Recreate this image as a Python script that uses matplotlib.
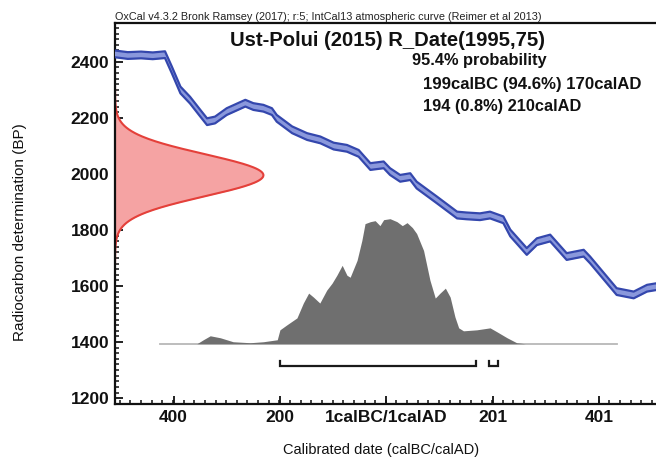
import numpy as np
import matplotlib
matplotlib.use("Agg")
import matplotlib.pyplot as plt
from matplotlib.ticker import MultipleLocator

plt.rcParams['font.family'] = ['Liberation Sans', 'DejaVu Sans']

# ---------------- data ----------------
# calibration curve (IntCal13) centre line, calendar year (BC negative) vs BP
cal_years = [-510, -485, -460, -438, -415, -402, -386, -368, -349, -336, -321, -299,
             -264, -249, -230, -214, -205, -176, -148, -123, -98, -73, -51, -29,
             -4, 8, 27, 46, 58, 96, 134, 152, 177, 196, 221, 234, 265, 284, 309,
             340, 372, 384, 434, 466, 491, 510, 540]
cal_bp = [2428, 2422, 2424, 2421, 2425, 2370, 2299, 2263, 2217, 2186, 2192, 2222,
          2252, 2240, 2234, 2222, 2198, 2157, 2133, 2121, 2099, 2091, 2073, 2026,
          2032, 2008, 1984, 1990, 1960, 1907, 1853, 1850, 1847, 1853, 1836, 1789,
          1723, 1758, 1771, 1705, 1717, 1693, 1580, 1568, 1592, 1598, 1605]
cal_err = 12

# radiocarbon measurement
r_mean = 1995
r_sigma = 75

# calibrated posterior (relative probability)
post_years = [-424, -355, -343, -330, -311, -287, -255, -230, -217, -204, -199, -186,
              -167, -155, -145, -136, -124, -111, -101, -92, -82, -73, -67, -54, -45,
              -39, -29, -20, -11, -4, 8, 21, 31, 40, 50, 58, 71, 83, 93, 102, 112,
              121, 130, 137, 146, 171, 196, 209, 228, 246, 262, 434]
post_prob = [0, 0, 4, 8, 6, 2, 1, 2, 3, 4, 14, 19,
             26, 41, 51, 47, 41, 54, 61, 69, 79, 69, 67, 84, 104,
             121, 123, 124, 119, 125, 126, 123, 119, 122, 117, 111, 94, 64, 46, 51, 56,
             47, 27, 16, 13, 14, 16, 12, 6, 1, 0, 0]

# 95.4% ranges
range_starts = [-198, 194]
range_ends = [170, 210]

x_ticks = [-399, -199, 1, 201, 401]
x_ticklabels = ['400', '200', '1calBC/1calAD', '201', '401']
y_ticks = [1200, 1400, 1600, 1800, 2000, 2200, 2400]

header = "OxCal v4.3.2 Bronk Ramsey (2017); r:5; IntCal13 atmospheric curve (Reimer et al 2013)"
title = "Ust-Polui (2015) R_Date(1995,75)"
prob_lines = ["95.4% probability", "199calBC (94.6%) 170calAD", "194 (0.8%) 210calAD"]

# ---------------- figure ----------------
W, H = 656, 459
fig = plt.figure(figsize=(W / 100, H / 100), dpi=100)
xlim = (-509, 540)
ylim = (1179, 2538)
ax_w = (xlim[1] - xlim[0]) * 0.532 / W
ax = fig.add_axes([115 / W, 1 - 404 / H, ax_w, (404 - 23) / H])
ax.set_xlim(*xlim)
ax.set_ylim(*ylim)

# calibration band
cy = np.array(cal_years, float)
cb = np.array(cal_bp, float)
ax.fill_between(cy, cb - cal_err, cb + cal_err, color='#8a98dc', lw=0, zorder=3)
ax.plot(cy, cb + cal_err, color='#3447ad', lw=1.6, zorder=4)
ax.plot(cy, cb - cal_err, color='#3447ad', lw=1.6, zorder=4)

# radiocarbon date distribution on y axis
bp = np.linspace(r_mean - 4.2 * r_sigma, r_mean + 4.2 * r_sigma, 300)
dens = np.exp(-0.5 * ((bp - r_mean) / r_sigma) ** 2)
red_width = 279
ax.fill_betweenx(bp, xlim[0], xlim[0] + dens * red_width, color='#f5a3a3', lw=0, zorder=2)
ax.plot(xlim[0] + dens * red_width, bp, color='#e4403a', lw=1.5, zorder=2)

# posterior
py = np.array(post_years, float)
pp = np.array(post_prob, float) / max(post_prob)
base = 1394
scale = 446
ax.plot([py[0], py[-1]], [base, base], color='#b8b8b8', lw=1.3, zorder=2)
ax.fill_between(py, base, base + pp * scale, color='#6f6f6f', lw=0, zorder=3)

# range brackets
br_y = 1313
br_h = 18
for s, e in zip(range_starts, range_ends):
    ax.plot([s, s, e, e], [br_y + br_h, br_y, br_y, br_y + br_h], color='#1a1a1a',
            lw=1.6, zorder=4, solid_joinstyle='miter')

# axes styling
for side in ['left', 'bottom', 'top', 'right']:
    ax.spines[side].set_linewidth(1.6)
    ax.spines[side].set_color('#111111')
ax.set_xticks(x_ticks)
ax.set_xticklabels(x_ticklabels)
ax.set_yticks(y_ticks)
ax.xaxis.set_minor_locator(MultipleLocator(20))
ax.yaxis.set_minor_locator(MultipleLocator(20))
ax.tick_params(which='major', direction='in', length=6, width=1.3, labelsize=12.5, pad=4,
               colors='#111111')
ax.tick_params(which='minor', direction='in', length=3, width=1.1, colors='#111111')
for lab in ax.get_xticklabels() + ax.get_yticklabels():
    lab.set_fontweight('bold')

# texts
def fx(x):
    return x / W

def fy(y):
    return 1 - y / H

fig.text(fx(115), fy(17), header, fontsize=7.8, ha='left', va='center', color='#222222')
fig.text(fx(388), fy(41), title, fontsize=14.6, fontweight='bold', ha='center', va='center',
         color='#111111')
fig.text(fx(412), fy(61), prob_lines[0], fontsize=11.8, fontweight='bold', ha='left',
         va='center', color='#111111')
fig.text(fx(423), fy(84), prob_lines[1], fontsize=12.1, fontweight='bold', ha='left',
         va='center', color='#111111')
fig.text(fx(423), fy(107), prob_lines[2], fontsize=11.8, fontweight='bold', ha='left',
         va='center', color='#111111')
fig.text(fx(20), fy(232), "Radiocarbon determination (BP)", fontsize=11, rotation=90,
         ha='center', va='center', color='#111111')
fig.text(fx(381), fy(450), "Calibrated date (calBC/calAD)", fontsize=10.5,
         ha='center', va='center', color='#111111')

fig.savefig('out.png', dpi=100)
